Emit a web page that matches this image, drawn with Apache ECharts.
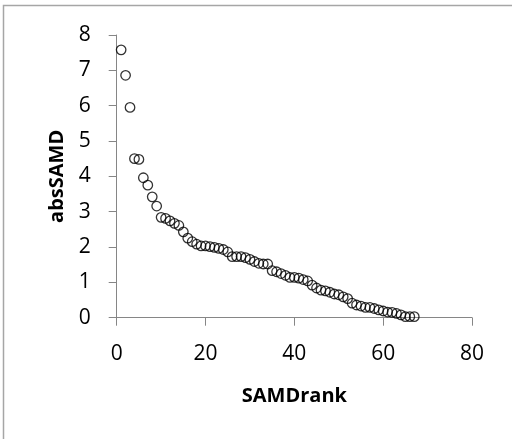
<!DOCTYPE html>
<html>
<head>
<meta charset="utf-8">
<script src="https://cdn.jsdelivr.net/npm/echarts@6/dist/echarts.min.js"></script>
<style>
html,body{margin:0;padding:0;background:#fff;}
#chart{width:512px;height:439px;}
</style>
</head>
<body>
<div id="chart"></div>
<script>
var ranks = [];
for (var i = 1; i <= 67; i++) ranks.push(i);
var absSAMD = [7.58,6.86,5.95,4.50,4.48,3.96,3.75,3.42,3.16,2.84,
  2.81,2.74,2.67,2.61,2.43,2.25,2.15,2.08,2.03,2.03,
  2.01,1.99,1.96,1.93,1.86,1.73,1.73,1.73,1.70,1.65,
  1.59,1.54,1.52,1.52,1.33,1.30,1.25,1.20,1.14,1.14,
  1.12,1.08,1.04,0.92,0.84,0.78,0.76,0.72,0.67,0.65,
  0.59,0.54,0.41,0.36,0.33,0.29,0.29,0.26,0.22,0.19,
  0.16,0.15,0.12,0.08,0.03,0.03,0.03];
var xTicks = [0,20,40,60,80];
var yTicks = [0,1,2,3,4,5,6,7,8];

var pts = ranks.map(function(r, i){ return [r, absSAMD[i]]; });
var font = '"Open Sans", "Noto Sans", sans-serif';
var axisColor = '#868686';

var chart = echarts.init(document.getElementById('chart'), null, {renderer:'canvas'});
chart.setOption({
  animation: false,
  backgroundColor: '#fff',
  graphic: [{
    type: 'rect',
    shape: {x: 3.5, y: 5.5, width: 700, height: 700},
    style: {fill: 'none', stroke: '#a6a6a6', lineWidth: 1.5},
    silent: true
  }],
  grid: {left: 116.7, right: 40, top: 35, bottom: 121.3, containLabel: false},
  xAxis: {
    type: 'value', min: xTicks[0], max: xTicks[xTicks.length-1], interval: 20,
    name: 'SAMDrank', nameLocation: 'middle', nameGap: 69,
    nameTextStyle: {fontFamily: font, fontWeight: 'bold', fontSize: 20, color: '#000'},
    axisLine: {show: true, lineStyle: {color: axisColor, width: 1}},
    axisTick: {show: true, length: 8, inside: false, lineStyle: {color: axisColor}},
    axisLabel: {fontFamily: font, fontSize: 21, color: '#000', margin: 26},
    splitLine: {show: false}
  },
  yAxis: {
    type: 'value', min: yTicks[0], max: yTicks[yTicks.length-1], interval: 1,
    name: 'absSAMD', nameLocation: 'middle', nameGap: 47, nameRotate: 90,
    nameTextStyle: {fontFamily: font, fontWeight: 'bold', fontSize: 20, color: '#000'},
    axisLine: {show: true, lineStyle: {color: axisColor, width: 1}},
    axisTick: {show: true, length: 8, inside: false, lineStyle: {color: axisColor}},
    axisLabel: {fontFamily: font, fontSize: 21, color: '#000', margin: 26},
    splitLine: {show: false}
  },
  series: [{
    type: 'scatter',
    data: pts,
    symbol: 'circle',
    symbolSize: 9.5,
    itemStyle: {color: 'rgba(0,0,0,0)', borderColor: '#000', borderWidth: 1.3}
  }]
});
</script>
</body>
</html>
